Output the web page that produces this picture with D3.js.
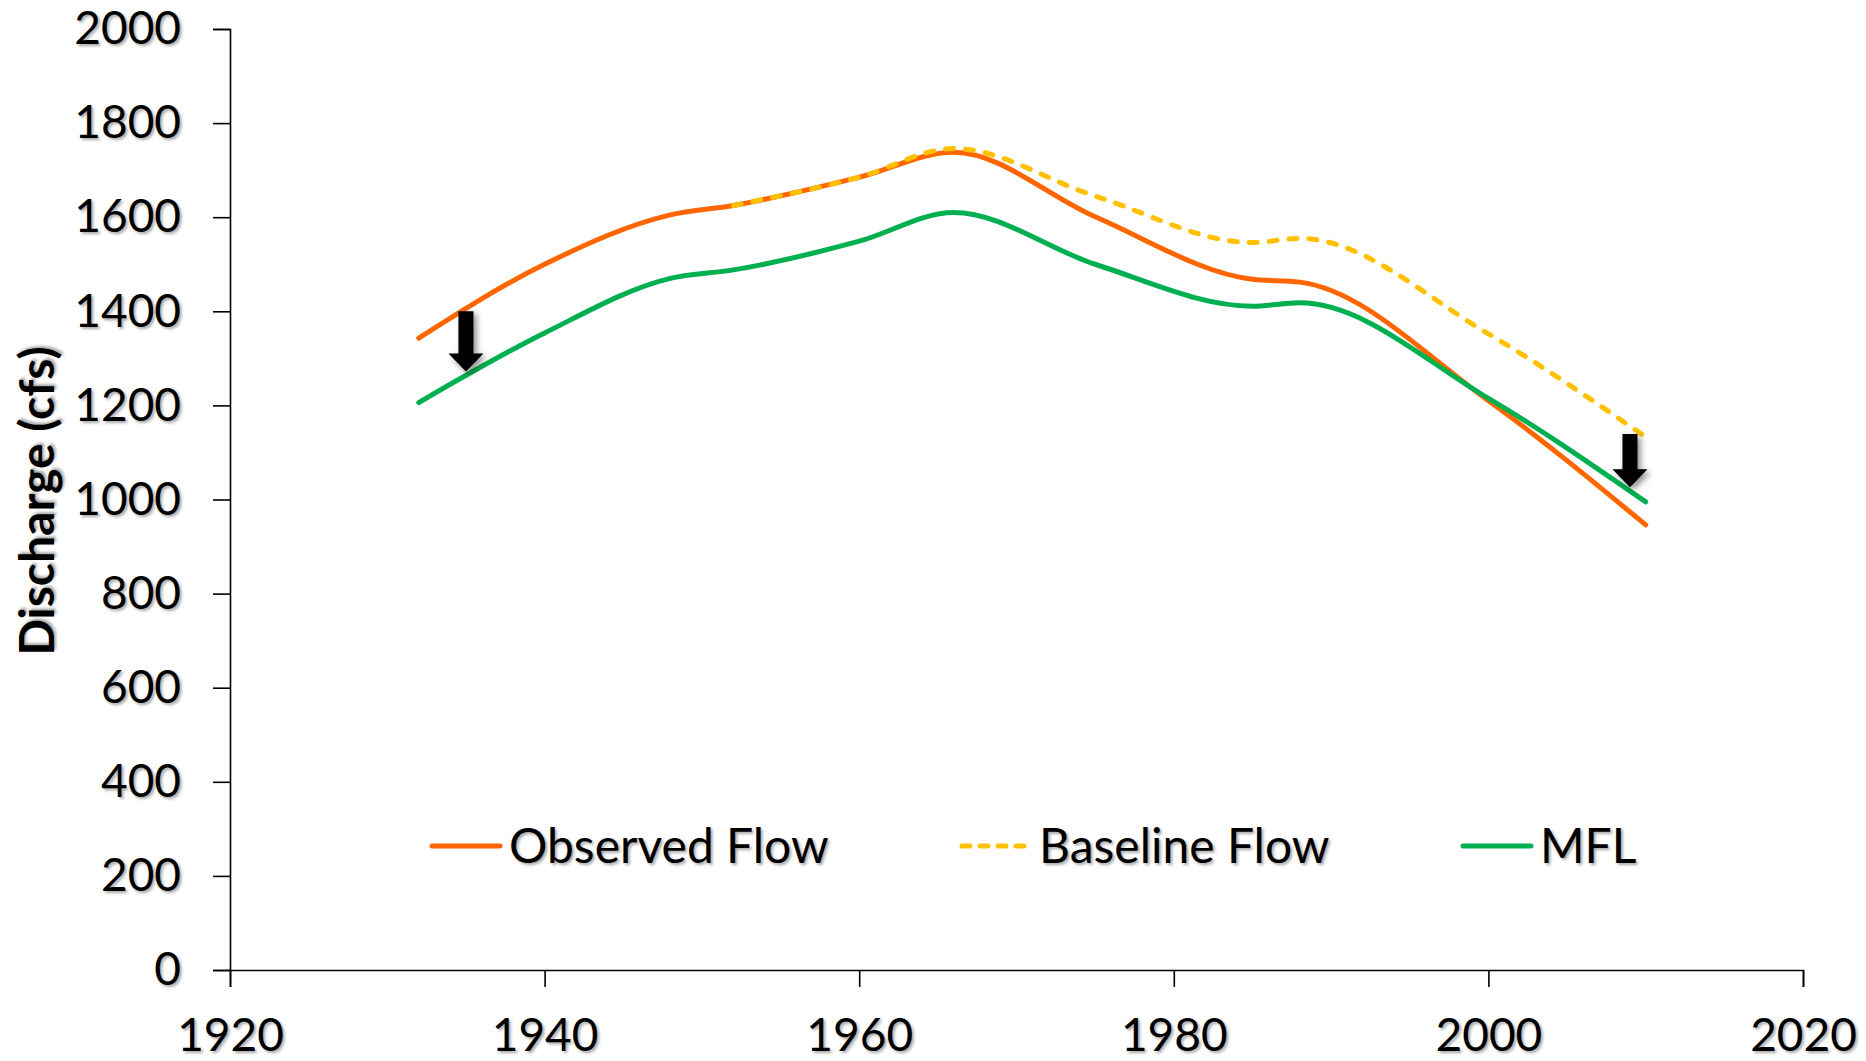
<!DOCTYPE html>
<html>
<head>
<meta charset="utf-8">
<script src="https://cdn.jsdelivr.net/npm/d3@7"></script>
<style>
  html, body { margin: 0; padding: 0; background: #fff; }
  text { font-family: Lato, "Open Sans", sans-serif; fill: #000; text-shadow: 2px 2px 3px rgba(0,0,0,0.35); }
</style>
</head>
<body>
<div id="chart"></div>
<script>
// Consts
const W = 1866, H = 1061;
const margin = {top: 29, right: 63, bottom: 91, left: 230};
const width = W - margin.left - margin.right;
const height = H - margin.top - margin.bottom;

// data
const obs_years = [1932, 1940, 1948, 1952, 1960, 1966, 1975, 1985, 1988, 2000, 2010];
const observed  = [1343, 1500, 1605, 1625, 1685, 1738, 1601, 1468, 1462, 1210, 946];
const mfl       = [1206, 1354, 1470, 1488, 1549, 1610, 1500, 1411, 1418, 1215, 995];
const base_years = [1952, 1960, 1966, 1975, 1985, 1988, 2000, 2010];
const baseline   = [1625, 1685, 1746, 1645, 1546, 1555, 1352, 1133];

const x_ticks = [1920, 1940, 1960, 1980, 2000, 2020];
const y_ticks = [0, 200, 400, 600, 800, 1000, 1200, 1400, 1600, 1800, 2000];

// arrows: year, from value, to value
const arrow_years = [1935, 2009];
const arrow_from  = [1400, 1139];
const arrow_to    = [1272, 1026];

const labels = ["Observed Flow", "Baseline Flow", "MFL"];
const colors = ["#FF6600", "#FFC000", "#00B050"];

const svg_root = d3.select("#chart").append("svg")
    .attr("width", W)
    .attr("height", H);

const defs = svg_root.append("defs");
defs.append("filter")
    .attr("id", "shadow")
    .attr("x", "-50%").attr("y", "-50%")
    .attr("width", "200%").attr("height", "200%")
  .append("feDropShadow")
    .attr("dx", 3).attr("dy", 3)
    .attr("stdDeviation", 3)
    .attr("flood-color", "#000")
    .attr("flood-opacity", 0.45);

const svg = svg_root.append("g")
    .attr("transform", "translate(" + margin.left + "," + margin.top + ")");

// scales
const x = d3.scaleLinear().domain([1920, 2020]).range([0, width]);
const y = d3.scaleLinear().domain([0, 2000]).range([height, 0]);

// axes
const y_axis = svg.append("g")
    .call(d3.axisLeft(y).tickValues(y_ticks).tickSize(17).tickPadding(32).tickFormat(d3.format("d")));
const x_axis = svg.append("g")
    .attr("transform", "translate(0," + height + ")")
    .call(d3.axisBottom(x).tickValues(x_ticks).tickSize(17).tickPadding(31).tickFormat(d3.format("d")));

[y_axis, x_axis].forEach(function(g) {
    g.select(".domain").attr("stroke", "#000").attr("stroke-width", 1.6);
    g.selectAll(".tick line").attr("stroke", "#000").attr("stroke-width", 1.6);
    g.selectAll(".tick text")
        .style("font-family", "Lato, sans-serif")
        .style("font-size", "46px")
        .attr("fill", "#000");
});

// y label
svg_root.append("text")
    .attr("transform", "translate(37,501) rotate(-90)")
    .attr("text-anchor", "middle")
    .attr("dy", "0.36em")
    .style("font-size", "48px")
    .style("font-weight", "bold")
    .text("Discharge (cfs)");

// lines
function make_points(xs, ys) {
    return xs.map(function(d, i) { return [d, ys[i]]; });
}
const line = d3.line()
    .x(d => x(d[0]))
    .y(d => y(d[1]))
    .curve(d3.curveMonotoneX);

svg.append("path")
    .datum(make_points(obs_years, observed))
    .attr("d", line)
    .attr("fill", "none")
    .attr("stroke", colors[0])
    .attr("stroke-width", 5)
    .attr("stroke-linecap", "round");

svg.append("path")
    .datum(make_points(base_years, baseline))
    .attr("d", line)
    .attr("fill", "none")
    .attr("stroke", colors[1])
    .attr("stroke-width", 5)
    .attr("stroke-linecap", "round")
    .attr("stroke-dasharray", "8,12");

svg.append("path")
    .datum(make_points(obs_years, mfl))
    .attr("d", line)
    .attr("fill", "none")
    .attr("stroke", colors[2])
    .attr("stroke-width", 5)
    .attr("stroke-linecap", "round");

// arrows
const shaft_w = 15, head_w = 35, head_h = 18;
svg.selectAll(".arrow")
    .data(arrow_years)
    .enter()
    .append("path")
    .attr("class", "arrow")
    .attr("filter", "url(#shadow)")
    .attr("fill", "#000")
    .attr("d", function(d, i) {
        const cx = x(d), top = y(arrow_from[i]), tip = y(arrow_to[i]);
        const hb = tip - head_h;
        return "M" + (cx - shaft_w/2) + "," + top +
            "L" + (cx + shaft_w/2) + "," + top +
            "L" + (cx + shaft_w/2) + "," + hb +
            "L" + (cx + head_w/2) + "," + hb +
            "L" + cx + "," + tip +
            "L" + (cx - head_w/2) + "," + hb +
            "L" + (cx - shaft_w/2) + "," + hb + "Z";
    });

// legend
const legend_x = [432, 962, 1463];
const legend_y = 846;
const legend = svg_root.selectAll(".legend")
    .data(labels)
    .enter()
    .append("g")
    .attr("class", "legend")
    .attr("transform", (d, i) => "translate(" + legend_x[i] + "," + legend_y + ")");

legend.append("line")
    .attr("x1", 0).attr("x2", 68)
    .attr("y1", 0).attr("y2", 0)
    .attr("stroke", (d, i) => colors[i])
    .attr("stroke-width", 5)
    .attr("stroke-linecap", "round")
    .attr("stroke-dasharray", (d, i) => i == 1 ? "8,10" : null);

legend.append("text")
    .attr("x", 77)
    .attr("dy", "0.36em")
    .style("font-size", "48px")
    .text(d => d);
</script>
</body>
</html>
